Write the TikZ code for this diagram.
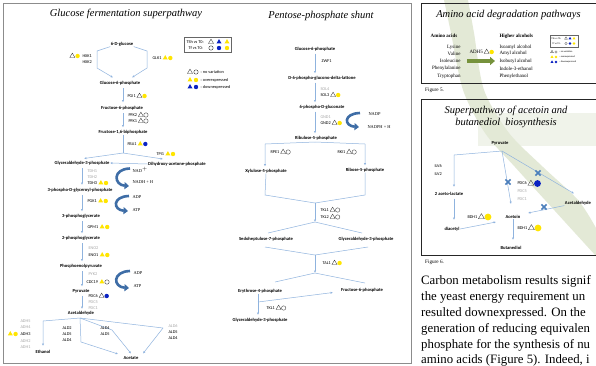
\documentclass[tikz,border=0pt]{standalone}
\usepackage{fontspec}
\setmainfont{Liberation Serif}
\newfontfamily\labfont{Carlito}
\usetikzlibrary{positioning,arrows.meta,shapes.geometric}

\definecolor{flowblue}{HTML}{8FB3DE}
\definecolor{curlblue}{HTML}{3E6DA6}
\definecolor{symyellow}{HTML}{FFE500}
\definecolor{symblue}{HTML}{0A22C2}
\definecolor{enzgrey}{HTML}{A8A8A8}
\definecolor{arrowgreen}{HTML}{76923C}
\definecolor{washgreen}{HTML}{E3E9D6}
\definecolor{crossblue}{HTML}{4A7EBB}

\newcommand\labsize{\labfont\fontsize{4.3}{5}\selectfont}
\newcommand\metsize{\labfont\fontsize{4.6}{5.5}\selectfont}
% two expression marks to the right of an enzyme node
\newcommand\exprmarks[3]{%
  \node[#2, right=1.4pt of #1] (#1t) {};
  \node[#3, right=0.8pt of #1t] (#1c) {};}

\begin{document}
\begin{tikzpicture}[x=1pt, y=-1pt, >=stealth,
  title/.style={font=\fontsize{10.5}{12}\selectfont\itshape, inner sep=0pt},
  met/.style={font=\metsize\bfseries, inner sep=0.4pt},
  enz/.style={font=\labsize, inner sep=0.3pt, anchor=west},
  enzoff/.style={enz, text=enzgrey},
  ser/.style={font=\fontsize{4.4}{5}\selectfont, inner sep=0.3pt, anchor=west},
  flow/.style={draw=flowblue, line width=0.5pt},
  flowarr/.style={flow, -{Latex[length=2.4pt,width=2.2pt]}},
  curl/.style={draw=curlblue, line width=2.6pt, -{Triangle[length=4.5pt,width=7pt]}},
  tri/.style={regular polygon, regular polygon sides=3, inner sep=0pt, minimum size=5.8pt},
  triO/.style={tri, draw=black!80, line width=0.35pt},
  triY/.style={tri, fill=symyellow},
  triB/.style={tri, fill=symblue},
  dot/.style={circle, inner sep=0pt, minimum size=4.4pt},
  dotO/.style={dot, draw=black!80, line width=0.35pt},
  dotY/.style={dot, fill=symyellow},
  dotB/.style={dot, fill=symblue},
  big/.style={minimum size=6.8pt},
  cross/.style={draw=crossblue, line width=1.6pt},
  aa/.style={font=\fontsize{5}{6}\selectfont, inner sep=0.3pt},
  mini/.style={font=\labfont\fontsize{2.4}{3}\selectfont, inner sep=0.2pt, anchor=west},
  body/.style={font=\fontsize{12.8}{15}\selectfont, anchor=west, inner sep=0pt}]

\clip (0,0) rectangle (596,365);
\fill[white] (0,0) rectangle (596,365);

% watermark band
\fill[washgreen, opacity=0.5] (478,113) rectangle (596,146);
\fill[washgreen] plot[smooth] coordinates {(444,0) (451,33) (463,90) (485,133) (515,167) (545,200) (575,233) (596,256)}
  -- plot[smooth] coordinates {(596,228) (578,200) (543,167) (509,133) (484,90) (474,33) (468,0)} -- cycle;

% frame of the left figure
\draw[black!45, line width=0.8pt] (3.5,3) rectangle (411.5,363);

%% glucose fermentation
\node[title] (gtitle) at (126,14) {Glucose fermentation superpathway};

\node[met] (glc)   at (122,44)  {6-D-glucose};
\node[met] (g6p)   at (120,83)  {Glucose-6-phosphate};
\node[met] (f6p)   at (122,108) {Fructose-6-phosphate};
\node[met] (fbp)   at (123,132) {Fructose-1,6-biphosphate};
\node[met] (gap)   at (82,163)  {Glyceraldehyde-3-phosphate};
\node[met] (dhap)  at (177,164) {Dihydroxy-acetone-phosphate};
\node[met] (bpg)   at (80,190)  {3-phospho-D-glyceroyl-phosphate};
\node[met] (pgA)   at (81,216)  {3-phosphoglycerate};
\node[met] (pgB)   at (81,238)  {2-phosphoglycerate};
\node[met] (pep)   at (81,266)  {Phosphoenolpyruvate};
\node[met] (pyr)   at (81,291)  {Pyruvate};
\node[met] (acald) at (81,313)  {Acetaldehyde};
\node[met] (etoh)  at (43,352)  {Ethanol};
\node[met] (ac)    at (131,358) {Acetate};

\coordinate (hl1) at (97,51);  \coordinate (hl2) at (97,68);
\coordinate (hr1) at (147,51); \coordinate (hr2) at (147,68);
\draw[flowarr] (glc.south west) -- (hl1) -- (hl2) -- (113,77.5);
\draw[flowarr] (glc.south east) -- (hr1) -- (hr2) -- (132,77.5);

\node[enz] (hxk1) at (82,56) {HXK1};
\node[enz] (hxk2) at (82,62) {HXK2};
\node[dotY, left=2pt of hxk1] (hxkc) {};
\node[triO, left=1pt of hxkc] (hxkt) {};
\node[enz] (glk1) at (152,58) {GLK1};
\exprmarks{glk1}{triY}{dotY}

\draw[flowarr] (123,88) -- (123,102.5);
\node[enz] (pgi1) at (127,96) {PGI1};
\exprmarks{pgi1}{triO}{dotY}
\draw[flowarr] (123,113) -- (123,127.5);
\node[enz] (pfk2) at (128,115) {PFK2};
\node[enz] (pfk1) at (128,121) {PFK1};
\exprmarks{pfk2}{triO}{dotO}
\exprmarks{pfk1}{triO}{dotO}

\coordinate (fbpj) at (123,153);
\draw[flow] (fbp.south) -- (fbpj);
\draw[flowarr] (fbpj) -- (84,158.5);
\draw[flowarr] (fbpj) -- (163,159);
\node[enz] (fba1) at (127,144) {FBA1};
\exprmarks{fba1}{triY}{dotB}
\node[enz] (tpi1) at (156,154) {TPI1};
\exprmarks{tpi1}{triY}{dotY}
\draw[flowarr] (dhap.west) -- (gap.east);

\node[enzoff] (tdh1) at (87,171) {TDH1};
\node[enzoff] (tdh2) at (87,177) {TDH2};
\node[enz] (tdh3) at (87,183) {TDH3};
\exprmarks{tdh3}{triY}{dotY}
\draw[flowarr] (82,168) -- (82,185);
\draw[curl] (130,168.5) .. controls (112,169) and (114,185) .. (129,186);
\node[ser] (nad) at (132,170) {NAD$^{+}$};
\node[ser] (nadh) at (132,182.5) {NADH + H};

\node[enz] (pgk1) at (87,201) {PGK1};
\exprmarks{pgk1}{triY}{dotY}
\draw[flowarr] (82,195) -- (82,211.5);
\draw[curl] (129,196) .. controls (112,196.5) and (113,210) .. (128,211);
\node[ser] (adpA) at (132,197.5) {ADP};
\node[ser] (atpA) at (132,210) {ATP};

\node[enz] (gpm1) at (87,227) {GPM1};
\exprmarks{gpm1}{triY}{dotY}
\draw[flowarr] (82,221) -- (82,233.5);

\node[enzoff] (eno2) at (88,248) {ENO2};
\node[enz] (eno1) at (88,255) {ENO1};
\exprmarks{eno1}{triY}{dotY}
\draw[flowarr] (82,243) -- (82,261.5);

\node[enzoff] (pyk2) at (88,274) {PYK2};
\node[enz] (cdc19) at (86,282) {CDC19};
\exprmarks{cdc19}{triY}{dotO}
\draw[flowarr] (82,271) -- (82,286.5);
\draw[curl] (130,271) .. controls (112,271.5) and (113,287) .. (129,288);
\node[ser] (adpB) at (133,273) {ADP};
\node[ser] (atpB) at (133,286.5) {ATP};

\node[enz] (pdc6) at (88,296) {PDC6};
\exprmarks{pdc6}{triO}{dotB}
\node[enzoff] (pdc5) at (88,302) {PDC5};
\node[enzoff] (pdc1) at (88,308) {PDC1};
\draw[flowarr] (82,295.5) -- (82,309);

% acetaldehyde branches
\coordinate (acj) at (80,318);
\draw[flowarr] (acj) -- (43,321) -- (43,346);
\draw[flowarr] (acj) -- (81,342) -- (118,354);
\draw[flowarr] (acj) -- (112,330) -- (131,353.5);
\draw[flowarr] (acj) -- (163,328) -- (143,353.5);

\node[enzoff] (adh5) at (20,321) {ADH5};
\node[enzoff] (adh4) at (20,327) {ADH4};
\node[enz] (adh3) at (20,334) {ADH3};
\node[enzoff] (adh2) at (20,341) {ADH2};
\node[enzoff] (adh1) at (20,347) {ADH1};
\node[dotY, left=2pt of adh3] (adhc) {};
\node[triY, left=1pt of adhc] (adht) {};

\node[enz] (aldA2) at (62,328) {ALD2};
\node[enz] (aldA5) at (62,334) {ALD5};
\node[enz] (aldA4) at (62,340) {ALD4};
\node[enz] (aldB4) at (100,328) {ALD4};
\node[enz] (aldB5) at (100,334) {ALD5};
\node[enzoff] (aldC6) at (168,326) {ALD6};
\node[enz] (aldC5) at (168,332) {ALD5};
\node[enz] (aldC4) at (168,338) {ALD4};

% legend
\draw[black!60, line width=0.4pt] (184,37.5) rectangle (231,52.5);
\node[enz] (legts) at (186,42) {TSh vs T0:};
\node[triO] (legt1) at (211,42) {};
\node[triB] (legt2) at (219,42) {};
\node[triY] (legt3) at (227,42) {};
\node[enz] (legtf) at (188,48) {Tf vs T0:};
\node[dotO] (legc1) at (211,48) {};
\node[dotB] (legc2) at (219,48) {};
\node[dotY] (legc3) at (227,48) {};
\node[triO] (lnt) at (190,72) {}; \node[dotO] (lnc) at (196,72) {};
\node[triY] (lot) at (190,80) {}; \node[dotY] (loc) at (196,80) {};
\node[triB] (ldt) at (190,87) {}; \node[dotB] (ldc) at (196,87) {};
\node[enz] (lno) at (200,72) {: no variation};
\node[enz] (lov) at (200,80) {: overexpressed};
\node[enz] (ldn) at (200,87) {: downexpressed};

%% pentose-phosphate shunt
\node[title] (ptitle) at (321,16) {Pentose-phosphate shunt};

\node[met] (pg6p)  at (315,49)  {Glucose-6-phosphate};
\node[met] (pgl)   at (322,78)  {D-6-phospho-glucono-delta-lattone};
\node[met] (gnt)   at (322,107) {6-phospho-D-gluconate};
\node[met] (ru5p)  at (316,138) {Ribulose-5-phosphate};
\node[met] (xu5p)  at (266,171) {Xylulose-5-phosphate};
\node[met] (r5p)   at (365,170) {Ribose-5-phosphate};
\node[met] (s7p)   at (266,239) {Sedoheptulose-7-phosphate};
\node[met] (pgapA) at (366,239) {Glyceraldehyde-3-phosphate};
\node[met] (e4p)   at (260,291) {Erythrose-4-phosphate};
\node[met] (pf6p)  at (362,290) {Fructose-6-phosphate};
\node[met] (pgapB) at (260,320) {Glyceraldehyde-3-phosphate};

\draw[flowarr] (315,53.5) -- (315,73.5);
\node[enz] (zwf1) at (321,61) {ZWF1};
\draw[flowarr] (315,82.5) -- (315,102.5);
\node[enzoff] (sol4) at (320,89) {SOL4};
\node[enz] (sol3) at (320,95) {SOL3};
\exprmarks{sol3}{triO}{dotY}
\draw[flowarr] (315,111.5) -- (315,133.5);
\node[enzoff] (gnd1) at (320,117) {GND1};
\node[enz] (gnd2) at (320,123) {GND2};
\exprmarks{gnd2}{triO}{dotY}
\draw[curl] (360,113) .. controls (343,113.5) and (344,126) .. (359,127);
\node[ser] (nadp) at (368,114) {NADP};
\node[ser] (nadph) at (367,127.5) {NADPH + H};

\coordinate (ruj) at (315,142);
\draw[flowarr] (ruj) -- (265,144) -- (265,166.5);
\draw[flowarr] (ruj) -- (365,144) -- (365,165.5);
\node[enz] (rpe1) at (270,152) {RPE1};
\exprmarks{rpe1}{triO}{dotO}
\node[enz] (rki1) at (337,152) {RKI1};
\exprmarks{rki1}{triO}{dotO}

\coordinate (tkj) at (315,203);
\coordinate (tks) at (315,222);
\draw[flow] (xu5p.south) -- (265,195) -- (tkj);
\draw[flow] (r5p.south) -- (365,195) -- (tkj);
\draw[flowarr] (tkj) -- (tks);
\draw[flow] (tks) -- (268,233);
\draw[flow] (tks) -- (362,233);
\node[enz] (tkl1) at (320,210) {TKL1};
\node[enz] (tkl2) at (320,217) {TKL2};
\exprmarks{tkl1}{triO}{dotO}
\exprmarks{tkl2}{triO}{dotO}

\coordinate (taj) at (315,255);
\coordinate (tas) at (315,273);
\draw[flow] (265,247) -- (taj);
\draw[flow] (368,247) -- (taj);
\draw[flowarr] (taj) -- (tas);
\draw[flow] (tas) -- (275,282);
\draw[flow] (tas) -- (365,283);
\node[enz] (tal1) at (322,263) {TAL1};
\exprmarks{tal1}{triO}{dotY}

\coordinate (e4j) at (258,302);
\draw[flow] (e4p.south -| e4j) -- (e4j);
\draw[flowarr] (e4j) -- (258,315);
\draw[flowarr] (e4j) -- (333,292.5);
\node[enz] (tkl1b) at (266,308) {TKL1};
\exprmarks{tkl1b}{triO}{dotO}

%% amino acid degradation
\draw[black!85, line width=0.6pt] (421.5,3.5) rectangle (620,83);
\node[title] (atitle) at (508.5,15) {Amino acid degradation pathways};
\node[aa, font=\fontsize{5}{6}\selectfont\bfseries] (aahead) at (444,36) {Amino acids};
\node[aa, font=\fontsize{5}{6}\selectfont\bfseries, anchor=west] (alhead) at (499,36) {Higher alcohols};
\node[aa, anchor=east] (lys) at (461,47) {Lysine};
\node[aa, anchor=east] (val) at (461,53.5) {Valine};
\node[aa, anchor=east] (ile) at (461,61) {Isoleucine};
\node[aa, anchor=east] (phe) at (461,68.5) {Phenylalanine};
\node[aa, anchor=east] (trp) at (461,76) {Tryptophan};
\node[aa, anchor=west] (iam) at (499,47) {Isoamyl alcohol};
\node[aa, anchor=west] (aml) at (499,53.5) {Amyl alcohol};
\node[aa, anchor=west] (ibu) at (499,61) {Isobutyl alcohol};
\node[aa, anchor=west] (ind) at (499,68.5) {Indole-3-ethanol};
\node[aa, anchor=west] (phl) at (499,76) {Phenylethanol};
\node[aa, anchor=west] (adh5r) at (469,52) {ADH5};
\exprmarks{adh5r}{triO}{dotY}
\coordinate (gaS) at (467,61);
\coordinate (gaE) at (495,61);
\draw[draw=arrowgreen, line width=3.4pt, -{Triangle[length=5pt,width=8pt]}] (gaS) -- (gaE);

\draw[black!60, line width=0.3pt] (550,35) rectangle (578,47);
\node[mini] (mlts) at (551,38.5) {TSh vs T0:};
\node[mini] (mltf) at (552,43.5) {Tf vs T0:};
\node[triO, minimum size=3.4pt, line width=0.25pt] (mlt1) at (566,38.5) {};
\node[triB, minimum size=3.4pt] (mlt2) at (570,38.5) {};
\node[triY, minimum size=3.4pt] (mlt3) at (574,38.5) {};
\node[dotO, minimum size=2.6pt, line width=0.25pt] (mlc1) at (566,43.5) {};
\node[dotB, minimum size=2.6pt] (mlc2) at (570,43.5) {};
\node[dotY, minimum size=2.6pt] (mlc3) at (574,43.5) {};
\node[triO, minimum size=3.4pt, line width=0.25pt] (mnt) at (552,52) {};
\node[dotO, minimum size=2.6pt, line width=0.25pt] (mnc) at (556,52) {};
\node[triY, minimum size=3.4pt] (mot) at (552,57) {};
\node[dotY, minimum size=2.6pt] (moc) at (556,57) {};
\node[triB, minimum size=3.4pt] (mdt) at (552,62) {};
\node[dotB, minimum size=2.6pt] (mdc) at (556,62) {};
\node[mini] (mno) at (559,52) {: no variation};
\node[mini] (mov) at (559,57) {: overexpressed};
\node[mini] (mdn) at (559,62) {: downexpressed};

\node[font=\fontsize{5.2}{6}\selectfont, anchor=west, inner sep=0pt] (fig5) at (425,90) {Figure 5.};

%% acetoin and butanediol
\draw[black!85, line width=0.6pt] (421.5,99.5) rectangle (620,255);
\node[title] (btitle1) at (506,111) {Superpathway of acetoin and};
\node[title] (btitle2) at (506,123) {butanediol\ \ biosynthesis};

\node[met] (pyrB)   at (500,143) {Pyruvate};
\node[met] (alac)   at (449,194) {2 aceto-lactate};
\node[met] (acaldB) at (578,203) {Acetaldehyde};
\node[met] (actn)   at (513,217) {Acetoin};
\node[met] (diac)   at (452,229) {diacetyl};
\node[met] (btd)    at (511,248) {Butanediol};

\coordinate (pyj) at (502,151);
\draw[flowarr] (pyj) -- (454,155) -- (454,187);
\draw[flowarr] (pyj) -- (511,204);
\draw[flowarr] (pyj) -- (574,193.5);
\draw[flowarr] (acaldB.south west) -- (528,213);
\draw[flowarr] (454,198.5) -- (454,220);
\draw[flowarr] (diac.east) -- (496,222);
\draw[flowarr] (actn.south) -- (513,240);
\node[enz] (ilv6) at (434,166) {ILV6};
\node[enz] (ilv2) at (434,174) {ILV2};
\node[enz] (pdc6b) at (517,183.5) {PDC6};
\exprmarks{pdc6b}{triO,big}{dotB,big}
\node[enzoff] (pdc5b) at (517,191.5) {PDC5};
\node[enzoff] (pdc1b) at (517,199) {PDC1};
\node[enz] (bdh1a) at (467,217) {BDH1};
\exprmarks{bdh1a}{triO,big}{dotY,big}
\node[enz] (bdh1b) at (517,228) {BDH1};
\exprmarks{bdh1b}{triO,big}{dotY,big}

\foreach \cx/\cy in {508/182, 538/173, 544/207}{
  \draw[cross] (\cx-2.6,\cy-2.6) -- (\cx+2.6,\cy+2.6)
               (\cx-2.6,\cy+2.6) -- (\cx+2.6,\cy-2.6);
}

\node[font=\fontsize{5.2}{6}\selectfont, anchor=west, inner sep=0pt] (fig6) at (425,262) {Figure 6.};

% running text
\node[body] (txt1) at (421,281) {Carbon metabolism results signif};
\node[body] (txt2) at (421,297) {the yeast energy requirement un};
\node[body] (txt3) at (421,313) {resulted downexpressed. On the};
\node[body] (txt4) at (421,329) {generation of reducing equivalen};
\node[body] (txt5) at (421,345) {phosphate for the synthesis of nu};
\node[body] (txt6) at (421,360) {amino acids (Figure 5). Indeed, i};
\end{tikzpicture}
\end{document}
